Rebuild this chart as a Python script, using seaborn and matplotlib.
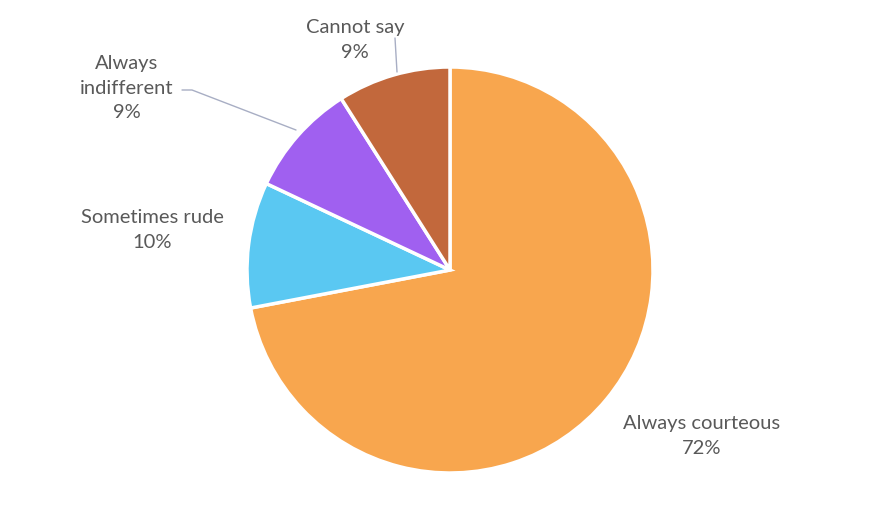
import matplotlib.pyplot as plt
import seaborn as sns

categories = ['Always courteous', 'Sometimes rude', 'Always indifferent', 'Cannot say']
label_text = ['Always courteous', 'Sometimes rude', 'Always\nindifferent', 'Cannot say']
shares = [72, 10, 9, 9]
colors = ['#F8A64E', '#5AC8F2', '#A060F0', '#C2683C']

sns.set_theme(style='white')
plt.rcParams['font.family'] = ['Lato', 'DejaVu Sans']

fig = plt.figure(figsize=(8.82, 5.3), dpi=100)
ax = fig.add_axes([0, 0, 1, 1])

# pie in pixel-like coordinates
ax.pie(shares, colors=colors, startangle=90, counterclock=False,
       center=(450, 260), radius=203,
       wedgeprops=dict(edgecolor='white', linewidth=2.5))
ax.set_xlim(0, 882)
ax.set_ylim(0, 530)
ax.axis('off')

# labels (outside end, with leader lines like the Excel original)
txt = dict(color='#595959', fontsize=14.5, ha='center', va='center', linespacing=1.55)
label_pos = [(702, 94), (152, 300), (127, 442), (355, 490)]
for name, val, (x, y) in zip(label_text, shares, label_pos):
    ax.text(x, y, f'{name}\n{val}%', **txt)

ax.plot([182, 192, 296], [440, 440, 400], color='#A8AEC4', lw=1)
ax.plot([395, 397], [492, 458], color='#A8AEC4', lw=1)

fig.savefig('out.png', dpi=100, facecolor='white')
